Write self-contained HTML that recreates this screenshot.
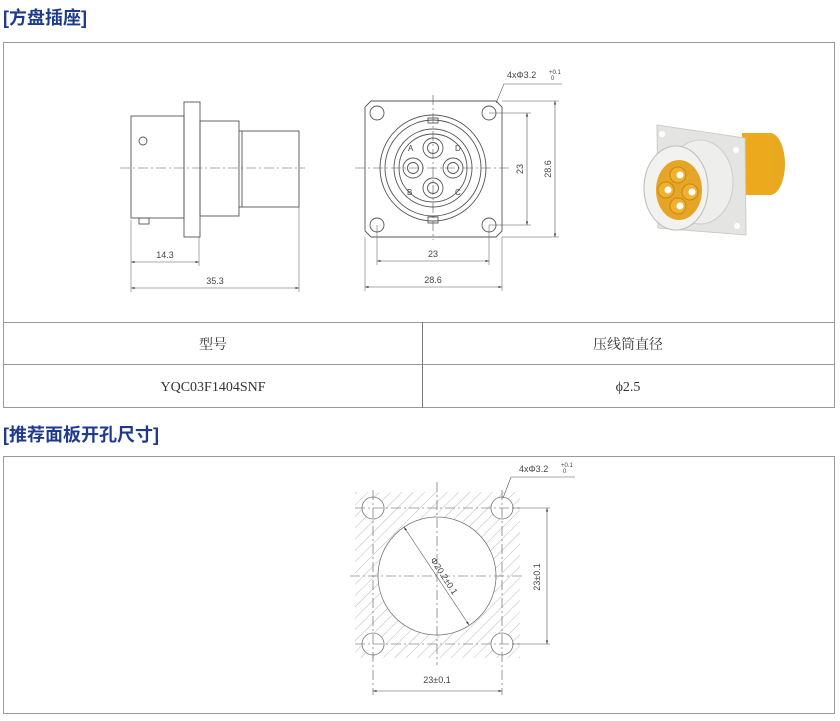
<!DOCTYPE html>
<html><head><meta charset="utf-8"><style>
html,body{margin:0;padding:0;background:#fff;width:840px;height:721px;overflow:hidden}
svg{display:block}
.h{font-family:"Liberation Sans","Noto Sans CJK SC",sans-serif;font-size:18px;fill:#1d3a8f;font-weight:bold}
.d{font-family:"Liberation Sans",sans-serif;font-size:9px;fill:#444}
.t{font-family:"Liberation Serif","Noto Serif CJK SC",serif;font-size:14px;fill:#333}
</style></head><body>
<svg width="840" height="721" viewBox="0 0 840 721" xmlns="http://www.w3.org/2000/svg">
<defs>
<marker id="a" viewBox="0 0 10 10" refX="10" refY="5" markerWidth="6" markerHeight="6" orient="auto-start-reverse"><path d="M0,2L10,5L0,8z" fill="#333"/></marker>
<pattern id="hat" width="8" height="8" patternUnits="userSpaceOnUse" patternTransform="rotate(45)"><line x1="0" y1="0" x2="0" y2="8" stroke="#aaa" stroke-width="0.8"/></pattern>
</defs>
<text x="3" y="24" class="h">[方盘插座]</text>
<rect x="3.5" y="42.5" width="831" height="365" fill="none" stroke="#999"/>
<line x1="3" y1="322.5" x2="835" y2="322.5" stroke="#999"/>
<line x1="3" y1="364.5" x2="835" y2="364.5" stroke="#999"/>
<line x1="422.5" y1="322" x2="422.5" y2="408" stroke="#777"/>
<text x="213" y="349" class="t" text-anchor="middle">型号</text>
<text x="628" y="349" class="t" text-anchor="middle">压线筒直径</text>
<text x="213" y="391" class="t" text-anchor="middle">YQC03F1404SNF</text>
<text x="628" y="391" class="t" text-anchor="middle">ϕ2.5</text>

<g fill="none" stroke="#555" stroke-width="0.9">
<rect x="131" y="116" width="53" height="102"/>
<circle cx="143" cy="141" r="4"/>
<rect x="139" y="218" width="10" height="6"/>
<rect x="184" y="102" width="16" height="135"/>
<rect x="200" y="121" width="39" height="95"/>
<rect x="242" y="131" width="57" height="76"/>
<line x1="239" y1="131" x2="242" y2="131"/><line x1="239" y1="207" x2="242" y2="207"/>
<line x1="120" y1="168" x2="305" y2="168" stroke-dasharray="10,3,2,3" stroke-width="0.6"/>
<line x1="131" y1="220" x2="131" y2="292" stroke-width="0.5"/>
<line x1="199" y1="237" x2="199" y2="266" stroke-width="0.5"/>
<line x1="299" y1="207" x2="299" y2="292" stroke-width="0.5"/>
<line x1="131" y1="262" x2="199" y2="262" stroke-width="0.6" marker-start="url(#a)" marker-end="url(#a)"/>
<line x1="131" y1="288" x2="299" y2="288" stroke-width="0.6" marker-start="url(#a)" marker-end="url(#a)"/>
<path d="M371,101H496L502,107V231L496,237H371L365,231V107Z"/>
<circle cx="377" cy="113" r="7"/><circle cx="489" cy="113" r="7"/><circle cx="377" cy="225" r="7"/><circle cx="489" cy="225" r="7"/>
<circle cx="433" cy="168" r="53"/><circle cx="433" cy="168" r="48"/><circle cx="433" cy="168" r="39"/><circle cx="433" cy="168" r="34"/>
<rect x="428" y="118" width="10" height="5"/><rect x="428" y="217" width="10" height="6"/>
<circle cx="433" cy="148" r="10"/><circle cx="433" cy="148" r="5.5"/>
<circle cx="413" cy="168" r="10"/><circle cx="413" cy="168" r="5.5"/>
<circle cx="453" cy="168" r="10"/><circle cx="453" cy="168" r="5.5"/>
<circle cx="433" cy="188" r="10"/><circle cx="433" cy="188" r="5.5"/>
<line x1="355" y1="168" x2="512" y2="168" stroke-dasharray="10,3,2,3" stroke-width="0.6"/>
<line x1="433" y1="95" x2="433" y2="240" stroke-dasharray="10,3,2,3" stroke-width="0.6"/>
<line x1="377" y1="225" x2="377" y2="265" stroke-width="0.5"/><line x1="489" y1="225" x2="489" y2="265" stroke-width="0.5"/>
<line x1="365" y1="237" x2="365" y2="291" stroke-width="0.5"/><line x1="502" y1="237" x2="502" y2="291" stroke-width="0.5"/>
<line x1="377" y1="261" x2="489" y2="261" stroke-width="0.6" marker-start="url(#a)" marker-end="url(#a)"/>
<line x1="365" y1="287" x2="502" y2="287" stroke-width="0.6" marker-start="url(#a)" marker-end="url(#a)"/>
<line x1="489" y1="113" x2="531" y2="113" stroke-width="0.5"/><line x1="489" y1="225" x2="531" y2="225" stroke-width="0.5"/>
<line x1="502" y1="101" x2="559" y2="101" stroke-width="0.5"/><line x1="502" y1="237" x2="559" y2="237" stroke-width="0.5"/>
<line x1="527" y1="113" x2="527" y2="225" stroke-width="0.6" marker-start="url(#a)" marker-end="url(#a)"/>
<line x1="555" y1="101" x2="555" y2="237" stroke-width="0.6" marker-start="url(#a)" marker-end="url(#a)"/>
<polyline points="496,103 504,84 562,84" stroke-width="0.6"/>
</g>
<g class="d" style="fill:#444">
<text x="408" y="151" font-size="8">A</text><text x="455" y="151" font-size="8">D</text>
<text x="407" y="195" font-size="8">B</text><text x="455" y="195" font-size="8">C</text>
<text x="165" y="258" text-anchor="middle">14.3</text>
<text x="215" y="284" text-anchor="middle">35.3</text>
<text x="433" y="257" text-anchor="middle">23</text>
<text x="433" y="283" text-anchor="middle">28.6</text>
<text transform="translate(523,169) rotate(-90)" text-anchor="middle">23</text>
<text transform="translate(551,169) rotate(-90)" text-anchor="middle">28.6</text>
<text x="507" y="78">4xΦ3.2</text><text x="549" y="74" font-size="6">+0.1</text><text x="551" y="80" font-size="6">0</text>
</g>
<g>
<ellipse cx="770" cy="164" rx="15" ry="31" fill="#e8a820"/>
<rect x="742" y="133" width="28" height="62" fill="#eca91e"/>
<path d="M657,125L745,138L746,235L658,228Z" fill="#e4e4e2" stroke="#ccc"/>
<circle cx="662" cy="134" r="3" fill="#fff"/><circle cx="736" cy="150" r="3" fill="#fff"/><circle cx="737" cy="226" r="3" fill="#fff"/>
<ellipse cx="700" cy="182" rx="33" ry="42" fill="#eeeeec" stroke="#ccc"/>
<ellipse cx="676" cy="188" rx="32" ry="42" fill="#f2f2f0" stroke="#bbb"/>
<ellipse cx="679" cy="190" rx="23" ry="30" fill="#e6a526"/>
<circle cx="678" cy="175" r="8" fill="#f0b030" stroke="#c48a10"/><circle cx="680" cy="175" r="3.5" fill="#fff"/>
<circle cx="666" cy="190" r="8" fill="#f0b030" stroke="#c48a10"/><circle cx="668" cy="190" r="3.5" fill="#fff"/>
<circle cx="690" cy="192" r="8" fill="#f0b030" stroke="#c48a10"/><circle cx="692" cy="192" r="3.5" fill="#fff"/>
<circle cx="678" cy="206" r="8" fill="#f0b030" stroke="#c48a10"/><circle cx="680" cy="206" r="3.5" fill="#fff"/>
</g>

<text x="3" y="441" class="h">[推荐面板开孔尺寸]</text>
<rect x="3.5" y="456.5" width="831" height="257" fill="none" stroke="#999"/>
<path d="M355,492H520V658H355Z M437,517a59,59 0 1,0 0.01,0Z" fill="url(#hat)" fill-rule="evenodd"/>
<g fill="#fff" stroke="#777" stroke-width="0.8">
<circle cx="437" cy="576" r="59"/>
<circle cx="373" cy="508" r="11"/><circle cx="502" cy="508" r="11"/><circle cx="373" cy="644" r="11"/><circle cx="502" cy="644" r="11"/>
</g>
<g fill="none" stroke="#555" stroke-width="0.6">
<line x1="350" y1="576" x2="525" y2="576" stroke-dasharray="10,3,2,3"/>
<line x1="437" y1="482" x2="437" y2="665" stroke-dasharray="10,3,2,3"/>
<line x1="355" y1="508" x2="520" y2="508" stroke-dasharray="10,3,2,3"/>
<line x1="355" y1="644" x2="520" y2="644" stroke-dasharray="10,3,2,3"/>
<line x1="373" y1="490" x2="373" y2="695" stroke-dasharray="10,3,2,3"/>
<line x1="502" y1="490" x2="502" y2="695" stroke-dasharray="10,3,2,3"/>
<line x1="404" y1="527" x2="469" y2="625" marker-start="url(#a)" marker-end="url(#a)"/>
<line x1="512" y1="508" x2="550" y2="508"/><line x1="512" y1="644" x2="550" y2="644"/>
<line x1="547" y1="508" x2="547" y2="644" marker-start="url(#a)" marker-end="url(#a)"/>
<line x1="373" y1="691" x2="502" y2="691" marker-start="url(#a)" marker-end="url(#a)"/>
<polyline points="503,498 511,477 575,477"/>
</g>
<g class="d">
<text transform="translate(430,560) rotate(57)">Φ20.2±0.1</text>
<text transform="translate(540,577) rotate(-90)" text-anchor="middle">23±0.1</text>
<text x="437" y="683" text-anchor="middle">23±0.1</text>
<text x="519" y="472">4xΦ3.2</text><text x="561" y="467" font-size="6">+0.1</text><text x="563" y="473" font-size="6">0</text>
</g>
</svg>
</body></html>
